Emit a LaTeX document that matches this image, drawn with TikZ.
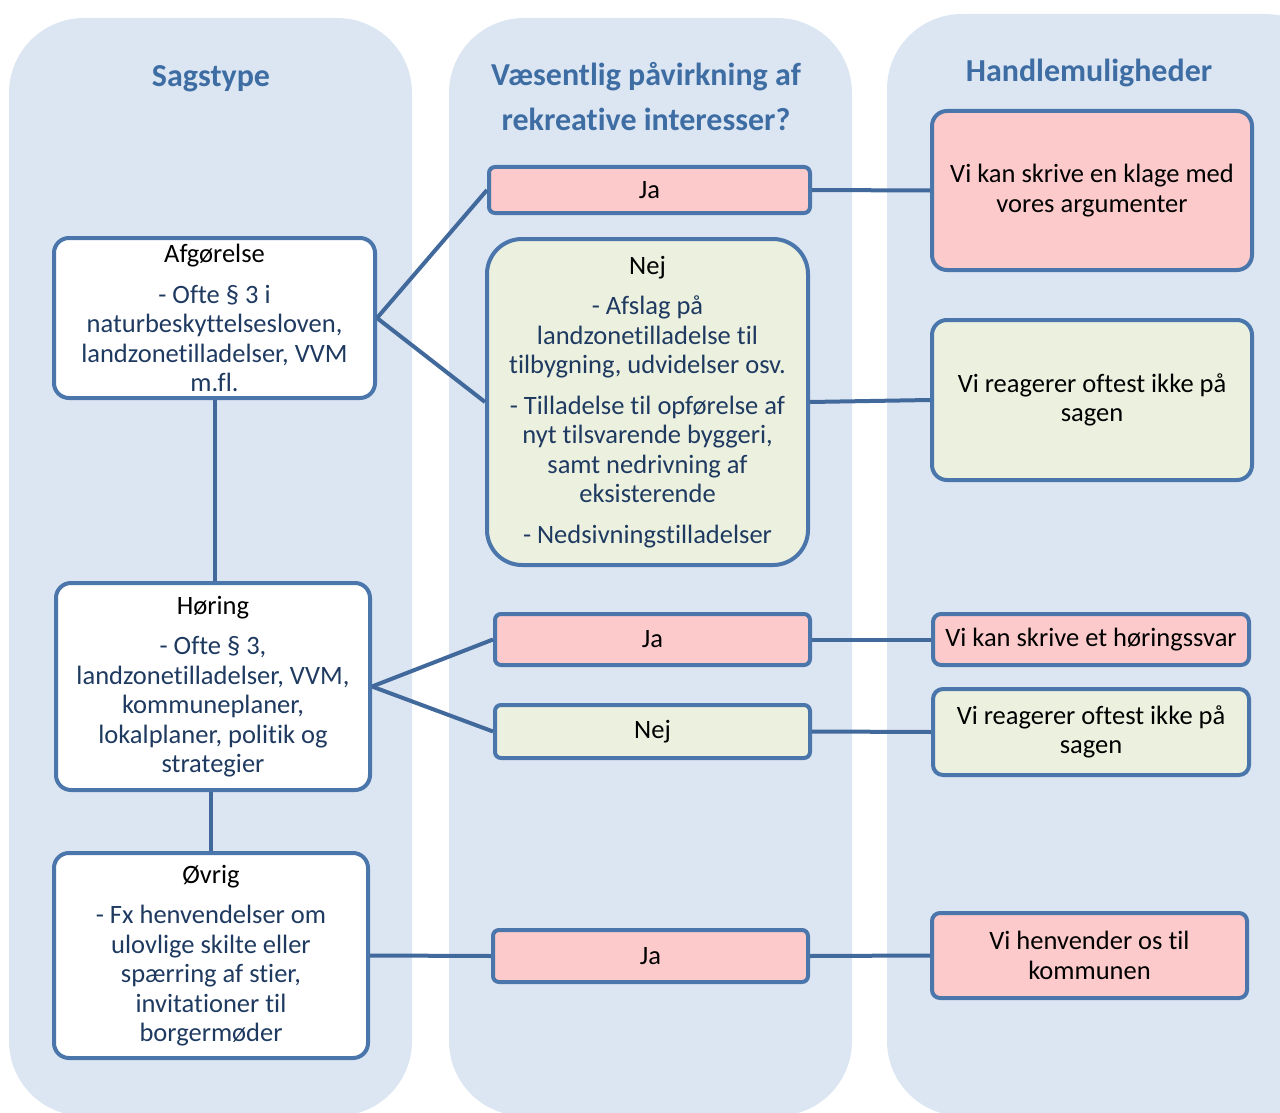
\documentclass[tikz,border=0pt]{standalone}
\usepackage{fontspec}
\setmainfont[Ligatures=NoCommon]{Carlito}
\definecolor{colbg}{HTML}{DCE6F2}
\definecolor{bordc}{HTML}{4A76AC}
\definecolor{connc}{HTML}{41699C}
\definecolor{pinkf}{HTML}{FCCACA}
\definecolor{greenf}{HTML}{EBF0DF}
\definecolor{detail}{HTML}{1F3A60}
\definecolor{headc}{HTML}{3E6DA3}
\newcommand{\dt}[1]{\textcolor{detail}{#1}}
\tikzset{
  column/.style={fill=colbg, rounded corners=75pt},
  head/.style={font=\fontsize{32}{45}\selectfont\bfseries, text=headc, align=center, inner sep=0pt},
  box/.style={draw=bordc, line width=4pt, inner sep=0pt, align=center,
    font=\fontsize{26.5}{29.5}\selectfont},
  conn/.style={draw=connc, line width=4pt},
}
\begin{document}
\begin{tikzpicture}[x=1pt,y=-1pt]
\useasboundingbox (0,0) rectangle (1280,1113);
% columns
\fill[column] (9,18) rectangle (412,1116);
\fill[column] (449,18) rectangle (852,1116);
\fill[column] (887,14) rectangle (1340,1116);
% headers
\node[head] (h1) at (211,78.5) {Sagstype};
\node[head] (h2) at (646,97) {Væsentlig påvirkning af\\rekreative interesser?};
\node[head] (h3) at (1089,72.5) {Handlemuligheder};
% left boxes
\node[box, fill=white, rounded corners=15pt, minimum width=321pt, minimum height=160pt] (afg) at (214.5,318)
  {Afgørelse\\[11pt]\dt{- Ofte § 3 i}\\\dt{naturbeskyttelsesloven,}\\\dt{landzonetilladelser, VVM}\\\dt{m.fl.}};
\node[box, fill=white, rounded corners=15pt, minimum width=314pt, minimum height=207pt] (hor) at (213,686.5)
  {Høring\\[11pt]\dt{- Ofte § 3,}\\\dt{landzonetilladelser, VVM,}\\\dt{kommuneplaner,}\\\dt{lokalplaner, politik og}\\\dt{strategier}};
\node[box, fill=white, rounded corners=15pt, minimum width=314pt, minimum height=205pt] (ovr) at (211,955.5)
  {Øvrig\\[11pt]\dt{- Fx henvendelser om}\\\dt{ulovlige skilte eller}\\\dt{spærring af stier,}\\\dt{invitationer til}\\\dt{borgermøder}};
% middle boxes
\node[box, fill=pinkf, rounded corners=6pt, minimum width=321pt, minimum height=46pt] (ja1) at (649.5,190) {Ja};
\node[box, fill=greenf, rounded corners=35pt, minimum width=321pt, minimum height=326pt] (nej1) at (647.5,402)
  {Nej\\[11pt]\dt{- Afslag på}\\\dt{landzonetilladelse til}\\\dt{tilbygning, udvidelser osv.}\\[11pt]%
   \dt{- Tilladelse til opførelse af}\\\dt{nyt tilsvarende byggeri,}\\\dt{samt nedrivning af}\\\dt{eksisterende}\\[11pt]%
   \dt{- Nedsivningstilladelser}};
\node[box, fill=pinkf, rounded corners=6pt, minimum width=315pt, minimum height=51pt] (ja2) at (652.5,639.5) {Ja};
\node[box, fill=greenf, rounded corners=6pt, minimum width=315pt, minimum height=53pt] (nej2) at (652.5,731.5) {Nej};
\node[box, fill=pinkf, rounded corners=6pt, minimum width=315pt, minimum height=52pt] (ja3) at (650.5,956) {Ja};
% right boxes
\node[box, fill=pinkf, rounded corners=15pt, minimum width=320pt, minimum height=159pt] (r1) at (1092,190.5)
  {Vi kan skrive en klage med\\vores argumenter};
\node[box, fill=greenf, rounded corners=15pt, minimum width=320pt, minimum height=160pt] (r2) at (1092,400)
  {Vi reagerer oftest ikke på\\sagen};
\node[box, fill=pinkf, rounded corners=8pt, minimum width=316pt, minimum height=51pt] (r3) at (1091,639.5)
  {Vi kan skrive et høringssvar};
\node[box, fill=greenf, rounded corners=10pt, minimum width=316pt, minimum height=86pt] (r4) at (1091,732)
  {Vi reagerer oftest ikke på\\sagen};
\node[box, fill=pinkf, rounded corners=8pt, minimum width=315pt, minimum height=85pt] (r5) at (1089.5,955.5)
  {Vi henvender os til\\kommunen};
% connectors
\draw[conn] (afg.east) -- (ja1.west);
\draw[conn] (afg.east) -- (nej1.west);
\draw[conn] (afg.south) -- (afg.south |- hor.north);
\draw[conn] (ovr.north) -- (ovr.north |- hor.south);
\draw[conn] (hor.east) -- (ja2.west);
\draw[conn] (hor.east) -- (nej2.west);
\draw[conn] (ovr.east) -- (ja3.west);
\draw[conn] (ja1.east) -- (r1.west);
\draw[conn] (nej1.east) -- (r2.west);
\draw[conn] (ja2.east) -- (r3.west);
\draw[conn] (nej2.east) -- (r4.west);
\draw[conn] (ja3.east) -- (r5.west);
\end{tikzpicture}
\end{document}
